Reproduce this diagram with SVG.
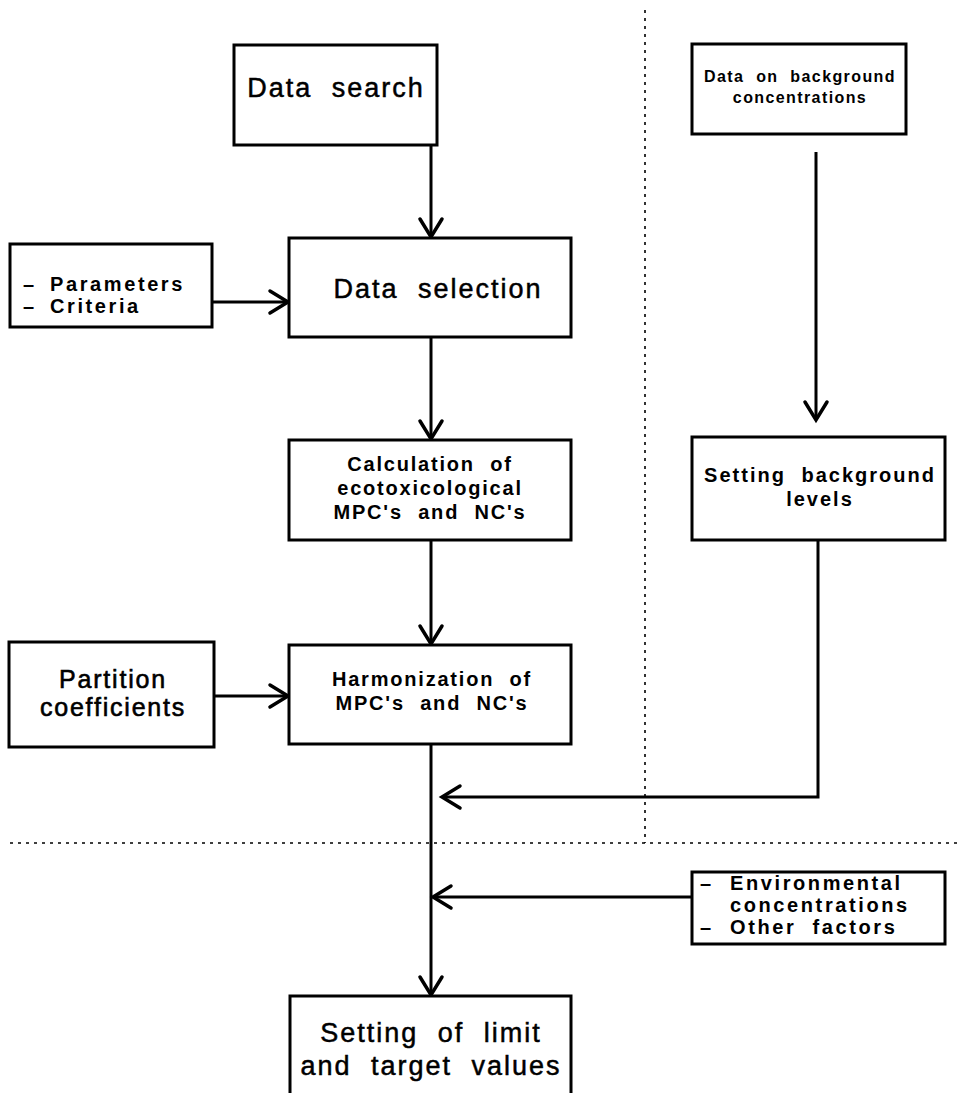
<svg xmlns="http://www.w3.org/2000/svg" width="959" height="1093" viewBox="0 0 959 1093">
<style>
.box{fill:#fff;stroke:#000;stroke-width:3}
.ln{fill:none;stroke:#000;stroke-width:3}
.dot{fill:none;stroke:#000;stroke-width:1.6;stroke-dasharray:3 5}
.ah{fill:none;stroke:#000;stroke-width:3.5;stroke-linecap:round;stroke-linejoin:miter}
text{font-family:"Liberation Sans",Arial,sans-serif;font-weight:bold;fill:#000;letter-spacing:1px;word-spacing:5px}
.big{font-size:27px;font-weight:normal;letter-spacing:2px;word-spacing:10px;stroke:#000;stroke-width:0.5}
.med{font-size:20px;text-anchor:middle;letter-spacing:1.8px;word-spacing:8px}
.sm{font-size:20px;letter-spacing:2.6px;word-spacing:8px}
.c{text-anchor:middle}
</style>
<rect width="959" height="1093" fill="#fff"/>
<g id="dividers">
<line class="dot" x1="645" y1="10" x2="645" y2="843"/>
<line class="dot" x1="10" y1="843" x2="959" y2="843"/>
</g>
<g id="connectors">
<line class="ln" x1="431" y1="145" x2="431" y2="236"/>
<polyline class="ah" points="420,219 431,237 442,219"/>
<line class="ln" x1="212" y1="302" x2="287" y2="302"/>
<polyline class="ah" points="270,291 288,302 270,313"/>
<line class="ln" x1="431" y1="337" x2="431" y2="438"/>
<polyline class="ah" points="420,421 431,439 442,421"/>
<line class="ln" x1="431" y1="540" x2="431" y2="643"/>
<polyline class="ah" points="420,626 431,644 442,626"/>
<line class="ln" x1="214" y1="696" x2="287" y2="696"/>
<polyline class="ah" points="270,685 288,696 270,707"/>
<line class="ln" x1="816" y1="152" x2="816" y2="419"/>
<polyline class="ah" points="805,402 816,420 827,402"/>
<polyline class="ln" points="818,540 818,797 443,797"/>
<polyline class="ah" points="460,786 442,797 460,808"/>
<line class="ln" x1="692" y1="897" x2="434" y2="897"/>
<polyline class="ah" points="451,886 433,897 451,908"/>
<line class="ln" x1="431" y1="744" x2="431" y2="994"/>
<polyline class="ah" points="420,977 431,995 442,977"/>
</g>
<g id="data-search">
<rect class="box" x="234" y="45" width="203" height="100"/>
<text class="big c" x="336" y="97">Data search</text>
</g>
<g id="data-selection">
<rect class="box" x="289" y="238" width="282" height="99"/>
<text class="big c" x="438" y="298">Data selection</text>
</g>
<g id="parameters">
<rect class="box" x="10" y="244" width="202" height="83"/>
<text class="sm" x="23" y="291">–</text>
<text class="sm" x="50" y="291">Parameters</text>
<text class="sm" x="23" y="313">–</text>
<text class="sm" x="50" y="313">Criteria</text>
</g>
<g id="calculation">
<rect class="box" x="289" y="440" width="282" height="100"/>
<text class="med" x="430" y="471">Calculation of</text>
<text class="med" x="430" y="495">ecotoxicological</text>
<text class="med" x="430" y="519">MPC's and NC's</text>
</g>
<g id="harmonization">
<rect class="box" x="289" y="645" width="282" height="99"/>
<text class="med" x="432" y="686">Harmonization of</text>
<text class="med" x="432" y="710">MPC's and NC's</text>
</g>
<g id="partition">
<rect class="box" x="9" y="642" width="205" height="105"/>
<text class="c" x="113" y="688" style="font-size:25px;font-weight:normal;stroke:#000;stroke-width:0.6;letter-spacing:1.8px">Partition</text>
<text class="c" x="113" y="716" style="font-size:25px;font-weight:normal;stroke:#000;stroke-width:0.6;letter-spacing:1.8px">coefficients</text>
</g>
<g id="background-data">
<rect class="box" x="692" y="44" width="214" height="90"/>
<text class="c" x="800" y="82" style="font-size:16px;letter-spacing:1.4px;word-spacing:6px">Data on background</text>
<text class="c" x="800" y="103" style="font-size:16px;letter-spacing:1.4px">concentrations</text>
</g>
<g id="background-levels">
<rect class="box" x="692" y="437" width="253" height="103"/>
<text class="c" x="820" y="482" style="font-size:20px;letter-spacing:2px;word-spacing:8px">Setting background</text>
<text class="c" x="820" y="506" style="font-size:20px;letter-spacing:2px">levels</text>
</g>
<g id="environmental">
<rect class="box" x="692" y="872" width="253" height="72"/>
<text class="sm" x="700" y="890">–</text>
<text class="sm" x="730" y="890">Environmental</text>
<text class="sm" x="730" y="912">concentrations</text>
<text class="sm" x="700" y="934">–</text>
<text class="sm" x="730" y="934">Other factors</text>
</g>
<g id="limit-target">
<rect class="box" x="290" y="996" width="281" height="130"/>
<text class="big c" x="431" y="1042">Setting of limit</text>
<text class="big c" x="431" y="1075">and target values</text>
</g>
</svg>
